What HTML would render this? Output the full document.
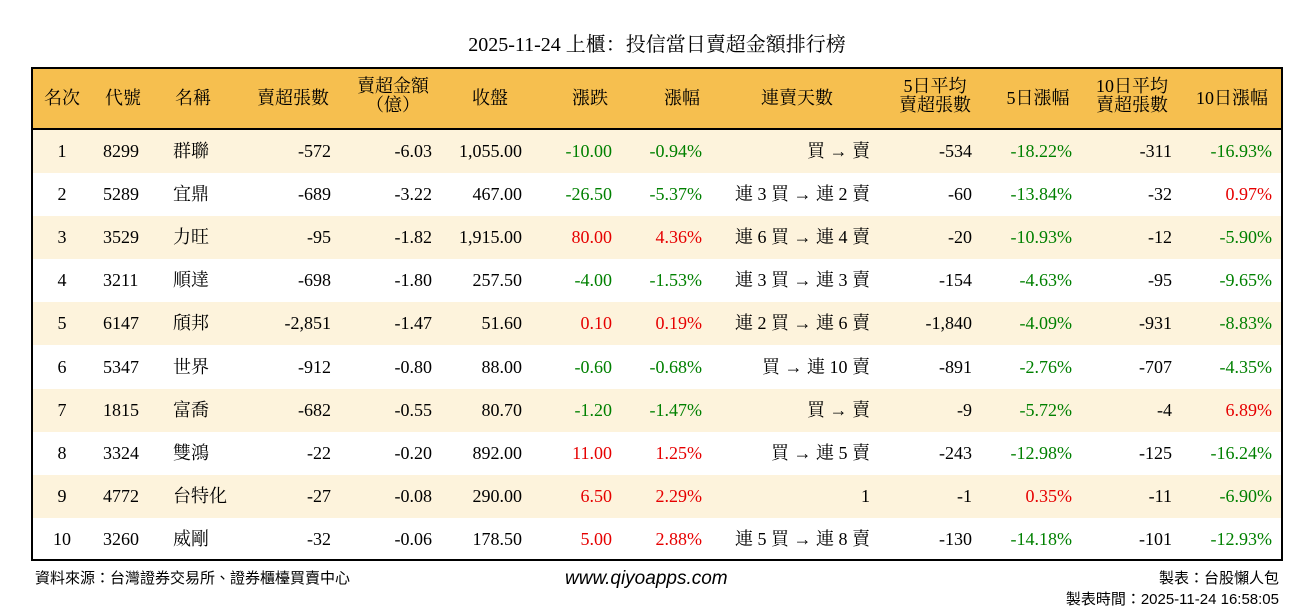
<!DOCTYPE html>
<html><head><meta charset="utf-8"><style>
body{margin:0;width:1314px;height:612px;background:#fff;font-family:"Liberation Serif","Noto Serif CJK SC",serif;color:#000;position:relative;overflow:hidden}
.t{position:absolute;white-space:nowrap}
#title{left:0;width:1314px;text-align:center;top:28px;font-size:20px}
.hdr{position:absolute;left:33px;top:69px;width:1248px;height:59px;background:#f6bf4f;border-bottom:2px solid #000}
#frame{position:absolute;left:31px;top:67px;width:1248px;height:490px;border:2px solid #000;z-index:5}
.row{position:absolute;left:0;width:1248px;height:43px}
.c{position:absolute;font-size:18px;line-height:43px;white-space:nowrap}
.r{text-align:right}
.h{position:absolute;font-size:18px;line-height:19px;white-space:nowrap;text-align:center}
.g{color:#008000}.rd{color:#e60000}
.ft{position:absolute;font-size:15px;font-family:"Liberation Sans","Noto Sans CJK TC",sans-serif}
</style></head><body>
<div class="t" id="title">2025-11-24 上櫃：投信當日賣超金額排行榜</div>
<div class="hdr"></div>
<div id="cells"></div>
<div id="frame"></div>
<div class="ft" style="left:35px;top:567px">資料來源：台灣證券交易所、證券櫃檯買賣中心</div>
<div class="ft" style="left:565px;top:568px;font-style:italic;font-size:19px">www.qiyoapps.com</div>
<div class="ft" style="right:35px;top:567px">製表：台股懶人包</div>
<div class="ft" style="right:35px;top:588px">製表時間：2025-11-24 16:58:05</div>
<script>
const hs=[[62,'名次'],[123,'代號'],[193,'名稱'],[293,'賣超張數'],[393,'賣超金額<br>（億）'],[490,'收盤'],[590,'漲跌'],[682,'漲幅'],[797,'連賣天數'],[935,'5日平均<br>賣超張數'],[1038,'5日漲幅'],[1132,'10日平均<br>賣超張數'],[1232,'10日漲幅']];
let h='';
for(const [x,s] of hs){const two=s.includes('<br>');h+=`<div class="h" style="left:${x-60}px;width:120px;top:${two?77:89}px">${s}</div>`;}
const d=[
[1,8299,'群聯',-572,'-6.03','1,055.00','-10.00','-0.94%','買 → 賣',-534,'-18.22%',-311,'-16.93%'],
[2,5289,'宜鼎',-689,'-3.22','467.00','-26.50','-5.37%','連 3 買 → 連 2 賣',-60,'-13.84%',-32,'0.97%'],
[3,3529,'力旺',-95,'-1.82','1,915.00','80.00','4.36%','連 6 買 → 連 4 賣',-20,'-10.93%',-12,'-5.90%'],
[4,3211,'順達',-698,'-1.80','257.50','-4.00','-1.53%','連 3 買 → 連 3 賣',-154,'-4.63%',-95,'-9.65%'],
[5,6147,'頎邦','-2,851','-1.47','51.60','0.10','0.19%','連 2 買 → 連 6 賣','-1,840','-4.09%',-931,'-8.83%'],
[6,5347,'世界',-912,'-0.80','88.00','-0.60','-0.68%','買 → 連 10 賣',-891,'-2.76%',-707,'-4.35%'],
[7,1815,'富喬',-682,'-0.55','80.70','-1.20','-1.47%','買 → 賣',-9,'-5.72%',-4,'6.89%'],
[8,3324,'雙鴻',-22,'-0.20','892.00','11.00','1.25%','買 → 連 5 賣',-243,'-12.98%',-125,'-16.24%'],
[9,4772,'台特化',-27,'-0.08','290.00','6.50','2.29%','1',-1,'0.35%',-11,'-6.90%'],
[10,3260,'威剛',-32,'-0.06','178.50','5.00','2.88%','連 5 買 → 連 8 賣',-130,'-14.18%',-101,'-12.93%']];
const rights=[null,null,null,331,432,522,612,702,870,972,1072,1172,1272];
d.forEach((r,i)=>{const y=130+i*43.1;
h+=`<div class="row" style="left:33px;top:${y}px;background:${i%2==0?'#fdf3dc':'#fff'}"></div>`;
h+=`<div class="c" style="left:42px;width:40px;text-align:center;top:${y}px">${r[0]}</div>`;
h+=`<div class="c" style="left:103px;top:${y}px">${r[1]}</div>`;
h+=`<div class="c" style="left:173px;top:${y}px">${r[2]}</div>`;
for(let k=3;k<13;k++){let cl='';const v=String(r[k]);
if([6,7,10,12].includes(k)) cl=v.startsWith('-')?'g':'rd';
h+=`<div class="c r ${cl}" style="left:${rights[k]-200}px;width:200px;top:${y}px">${v}</div>`;}
});
document.getElementById('cells').innerHTML=h;
</script>
</body></html>
